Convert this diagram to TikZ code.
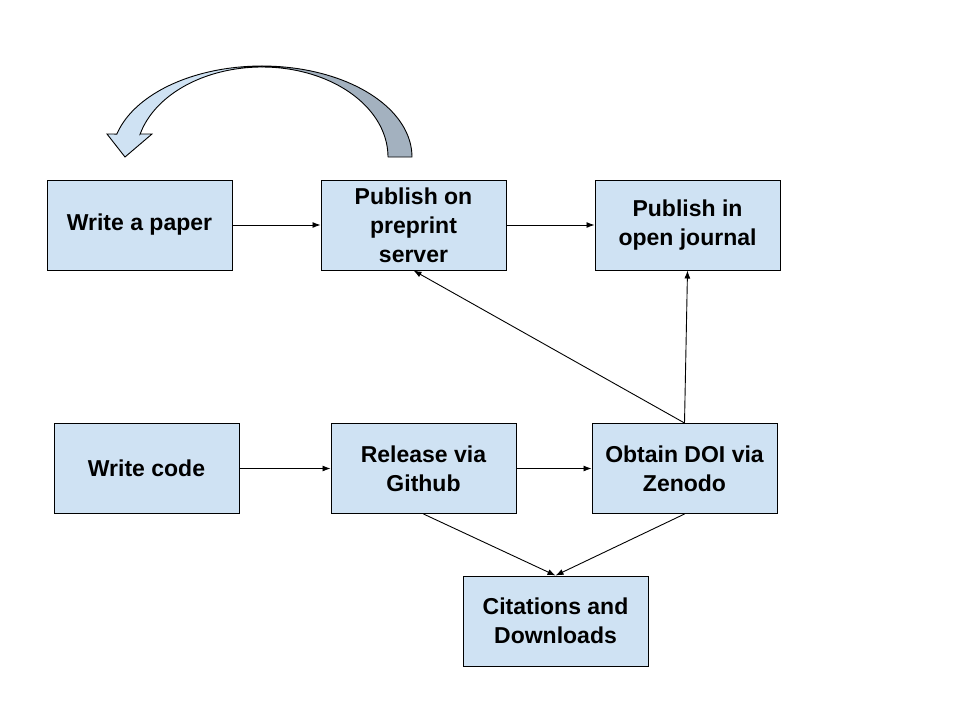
\documentclass[tikz,border=0pt]{standalone}
\usepackage{fontspec}
\setmainfont{Liberation Sans}
\usetikzlibrary{arrows.meta}
\definecolor{boxfill}{HTML}{CFE2F3}
\definecolor{darkband}{HTML}{A3B1BF}
\begin{document}
\begin{tikzpicture}[x=1pt,y=-1pt,
  box/.style={draw=black,line width=1pt,fill=boxfill,minimum width=185pt,minimum height=90pt,
    align=center,inner sep=0pt,font=\fontsize{23}{28.8}\selectfont\bfseries},
  conn/.style={line width=0.9pt,-{Latex[length=8pt,width=6pt]}}]
\useasboundingbox (0,0) rectangle (960,720);
\node[box] (paper) at (139.5,225) {\raisebox{-2pt}{Write a paper}};
\node[box] (preprint) at (413.5,225) {Publish on\\preprint\\server};
\node[box] (journal) at (687.5,225) {Publish in\\open journal};
\node[box] (code) at (146.5,468.5) {\raisebox{-1.5pt}{Write code}};
\node[box] (release) at (423.5,468.5) {Release via\\Github};
\node[box] (obtain) at (684.5,468.5) {Obtain DOI via\\Zenodo};
\node[box] (cite) at (555.5,621) {Citations and\\Downloads};
\draw[conn] (paper.east) -- (preprint.west);
\draw[conn] (preprint.east) -- (journal.west);
\draw[conn] (code.east) -- (release.west);
\draw[conn] (release.east) -- (obtain.west);
\draw[conn] (obtain.north) -- (journal.south);
\draw[conn] (obtain.north) -- (preprint.south);
\draw[conn] (release.south) -- (cite.north);
\draw[conn] (obtain.south) -- (cite.north);
% curved arrow
\draw[line width=0.9pt,fill=darkband,line join=round]
  plot[domain=90:0,samples=40] ({262+150*cos(\x)},{157-91*sin(\x)})
  -- (388,157)
  -- plot[domain=0:90,samples=40] ({262+126*cos(\x)},{157-90*sin(\x)}) -- cycle;
\draw[line width=0.9pt,fill=boxfill,line join=miter]
  plot[domain=90:165.4,samples=40] ({262+150*cos(\x)},{157-91*sin(\x)})
  -- (107,134) -- (125,157) -- (152,134) -- (140.2,134)
  -- plot[domain=165.2:90,samples=40] ({262+126*cos(\x)},{157-90*sin(\x)}) -- cycle;
\end{tikzpicture}
\end{document}
